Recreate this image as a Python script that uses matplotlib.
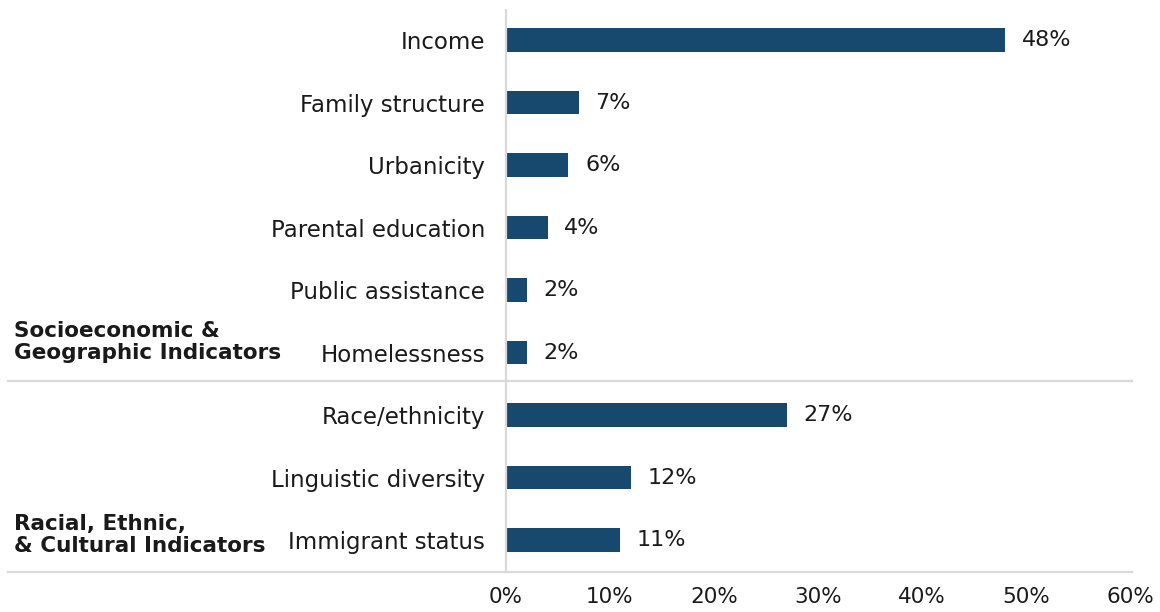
import matplotlib
matplotlib.use("Agg")
import matplotlib.pyplot as plt
import matplotlib.transforms as mtransforms
from matplotlib.lines import Line2D

categories = ["Income", "Family structure", "Urbanicity", "Parental education",
              "Public assistance", "Homelessness", "Race/ethnicity",
              "Linguistic diversity", "Immigrant status"]
values = [48, 7, 6, 4, 2, 2, 27, 12, 11]
groups = ["Socioeconomic &\nGeographic Indicators",
          "Racial, Ethnic,\n& Cultural Indicators"]
xticks = [0, 10, 20, 30, 40, 50, 60]

plt.rcParams["font.family"] = ["DejaVu Sans"]
bar_color = "#17496f"
grid_color = "#d9d9d9"
txt = "#1a1a1a"

fig = plt.figure(figsize=(11.6, 6.12), dpi=100)
ax = fig.add_axes([506 / 1160, 1 - 572 / 612, 624 / 1160, 562 / 612])

y = list(range(len(categories)))
ax.barh(y, values, height=0.38, color=bar_color)
ax.set_ylim(8.51, -0.48)
ax.set_xlim(0, 60)

for yi, v in zip(y, values):
    ax.text(v + 1.6, yi, f"{v}%", va="center", ha="left", fontsize=16, color=txt)

ax.set_yticks(y)
ax.set_yticklabels(categories, fontsize=16.5, color=txt)
ax.set_xticks(xticks)
ax.set_xticklabels([f"{t}%" for t in xticks], fontsize=15.5, color=txt)
ax.tick_params(axis="both", length=0)
ax.tick_params(axis="y", pad=15)
ax.tick_params(axis="x", pad=11)

for s in ["top", "right", "bottom"]:
    ax.spines[s].set_visible(False)
ax.spines["left"].set_color(grid_color)
ax.spines["left"].set_linewidth(1.6)

# separators spanning the full width
trans = mtransforms.blended_transform_factory(fig.transFigure, ax.transData)
for yl in [5.46, 8.51]:
    fig.add_artist(Line2D([8 / 1160, 1132 / 1160], [yl, yl], transform=trans,
                          color=grid_color, lw=1.6))

# group labels
ax.text(14 / 1160, 4.83, groups[0], transform=trans, ha="left", va="center",
        fontsize=15.5, fontweight="bold", color=txt, linespacing=1.1)
ax.text(14 / 1160, 7.92, groups[1], transform=trans, ha="left", va="center",
        fontsize=15.5, fontweight="bold", color=txt, linespacing=1.1)

fig.savefig("out.png", dpi=100)
